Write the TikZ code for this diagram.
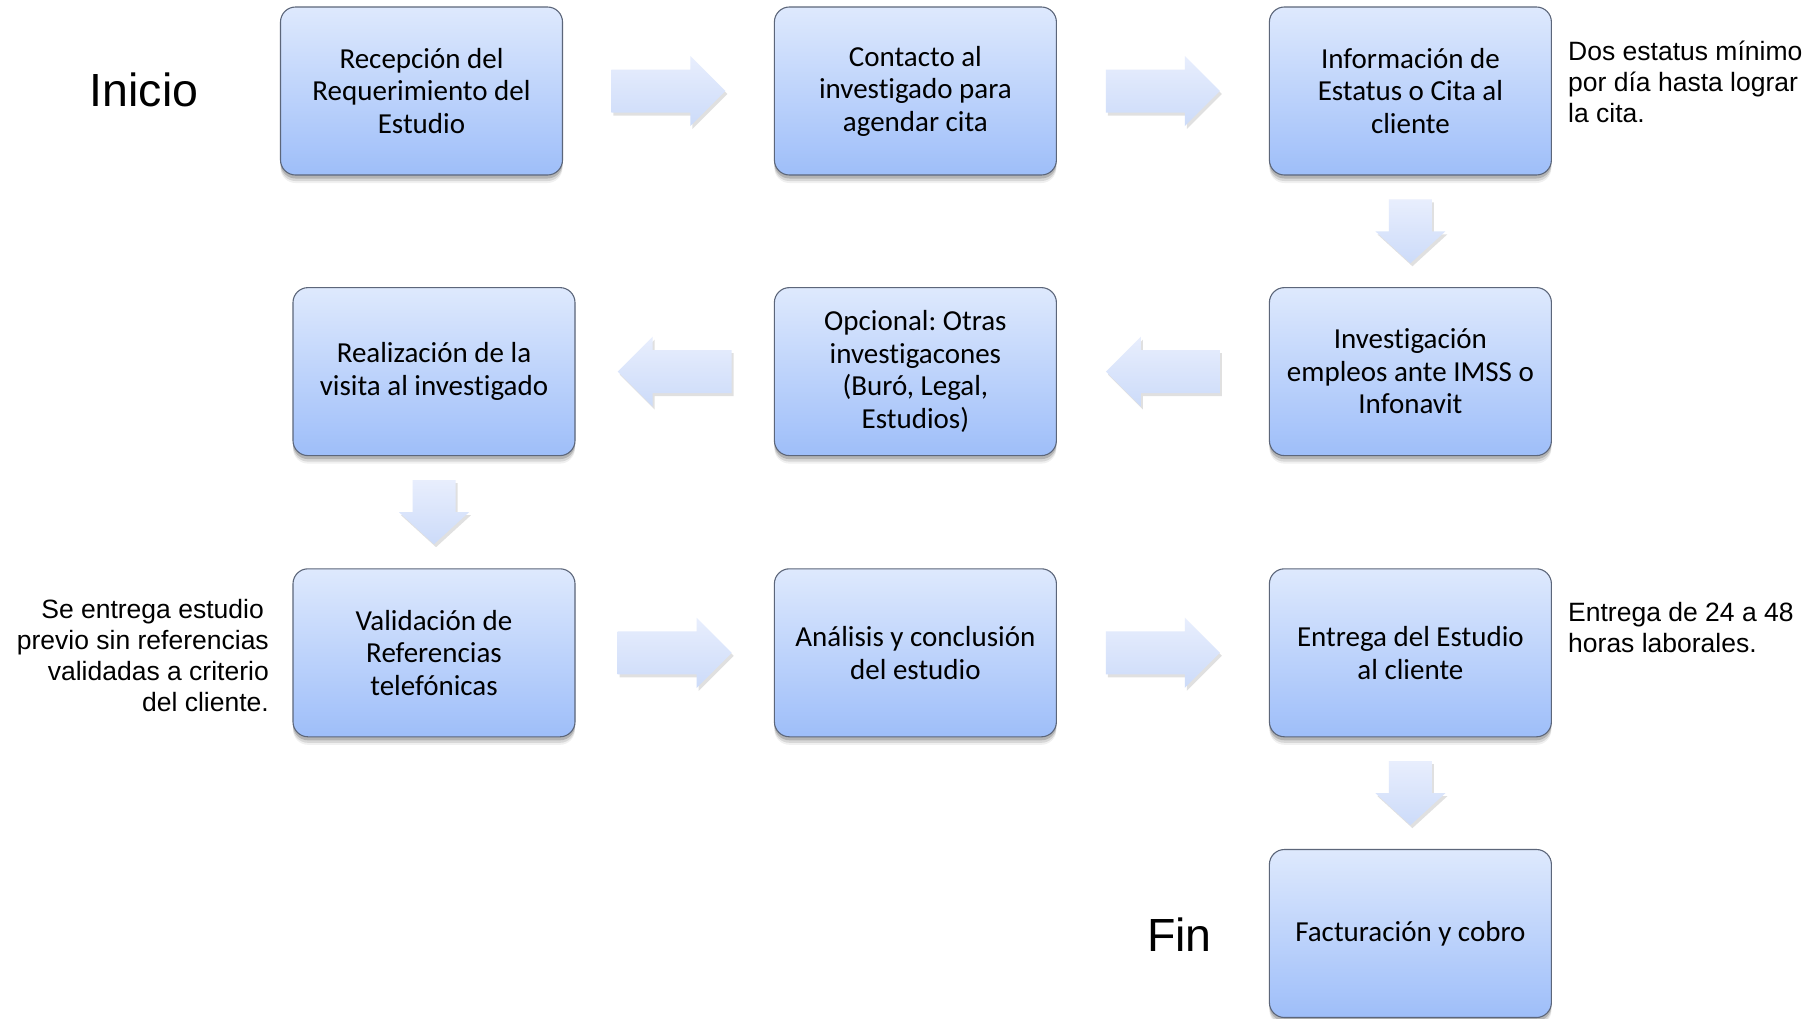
\documentclass[tikz,border=0pt]{standalone}
\usepackage{fontspec}
\setmainfont{Carlito}[Ligatures=CommonOff]
\newfontfamily\arialf{Liberation Sans}
\usetikzlibrary{calc,shadows}
\frenchspacing
\definecolor{boxtop}{RGB}{222,233,253}
\definecolor{boxbot}{RGB}{158,190,249}
\definecolor{boxline}{RGB}{92,102,122}
\definecolor{arrtop}{RGB}{232,238,253}
\definecolor{arrbot}{RGB}{204,219,249}
\tikzset{
  stepbox/.style={draw=boxline, line width=1.1pt, rounded corners=15pt,
    minimum width=282pt, minimum height=168pt, inner sep=0pt,
    top color=boxtop, bottom color=boxbot, align=center,
    font=\fontsize{29}{32.5}\selectfont,
    drop shadow={shadow xshift=0pt, shadow yshift=-8pt, opacity=0.06, fill=black},
    drop shadow={shadow xshift=0pt, shadow yshift=-6pt, opacity=0.10, fill=black},
    drop shadow={shadow xshift=0pt, shadow yshift=-3.5pt, opacity=0.16, fill=black}},
  arrowsty/.style={top color=arrtop, bottom color=arrbot, draw=none,
    drop shadow={shadow xshift=2pt, shadow yshift=-3pt, opacity=0.12, fill=black}},
  rarrow/.pic={\path[arrowsty] (-57,-21.5) -- (22,-21.5) -- (22,-35) -- (57,0) -- (22,35) -- (22,21.5) -- (-57,21.5) -- cycle;},
  larrow/.pic={\path[arrowsty] (57,-21.5) -- (-22,-21.5) -- (-22,-35) -- (-57,0) -- (-22,35) -- (-22,21.5) -- (57,21.5) -- cycle;},
  darrow/.pic={\path[arrowsty] (-21.5,-32) -- (21.5,-32) -- (21.5,0) -- (35,0) -- (0,32) -- (-35,0) -- (-21.5,0) -- cycle;},
  notetxt/.style={inner sep=0pt, font=\arialf\fontsize{26.5}{31}\selectfont},
  bigtxt/.style={inner sep=0pt, font=\arialf\fontsize{46.5}{50}\selectfont},
}
\begin{document}
\begin{tikzpicture}[x=1pt,y=-1pt]
\useasboundingbox[fill=white] (0,0) rectangle (1818,1018);
% boxes
\node[stepbox] (b1) at (421.5,91) {Recepción del\\Requerimiento del\\Estudio};
\node[stepbox] (b2) at (915.4,91) {Contacto al\\investigado para\\agendar cita};
\node[stepbox] (b3) at (1410.4,91) {Información de\\Estatus o Cita al\\cliente};
\node[stepbox] (b4) at (1410.4,371.6) {Investigación\\empleos ante IMSS o\\Infonavit};
\node[stepbox] (b5) at (915.4,371.6) {Opcional: Otras\\investigacones\\(Buró, Legal,\\Estudios)};
\node[stepbox] (b6) at (434,371.6) {Realización de la\\visita al investigado};
\node[stepbox] (b7) at (434,652.8) {Validación de\\Referencias\\telefónicas};
\node[stepbox] (b8) at (915.4,652.8) {Análisis y conclusión\\del estudio};
\node[stepbox] (b9) at (1410.4,652.8) {Entrega del Estudio\\al cliente};
\node[stepbox] (b10) at (1410.4,933.5) {Facturación y cobro};
% arrows
\pic at ($(b1.east)!0.5!(b2.west)$) {rarrow};
\pic at ($(b2.east)!0.5!(b3.west)$) {rarrow};
\pic at ($(b3.south)!0.5!(b4.north)$) {darrow};
\pic at ($(b4.west)!0.5!(b5.east)$) {larrow};
\pic at ($(b5.west)!0.5!(b6.east)$) {larrow};
\pic at ($(b6.south)!0.5!(b7.north)$) {darrow};
\pic at ($(b7.east)!0.5!(b8.west)$) {rarrow};
\pic at ($(b8.east)!0.5!(b9.west)$) {rarrow};
\pic at ($(b9.south)!0.5!(b10.north)$) {darrow};
% labels
\node[bigtxt, anchor=base] (inicio) at (144,106) {Inicio};
\node[bigtxt, anchor=base] (fin) at (1179.5,951.7) {Fin};
\node[notetxt, anchor=north west, align=left] (n1) at (1568,40)
  {\rule{0pt}{20pt}Dos estatus mínimo\\por día hasta lograr\\la cita.};
\node[notetxt, anchor=north west, align=left] (n2) at (1568,601)
  {\rule{0pt}{20pt}Entrega de 24 a 48\\horas laborales.};
\node[notetxt, anchor=north east, align=right] (n3) at (269,598)
  {\rule{0pt}{20pt}Se entrega estudio\hspace*{5pt}\\previo sin referencias\hspace*{5pt}\\validadas a criterio\hspace*{5pt}\\del cliente.};
\end{tikzpicture}
\end{document}
